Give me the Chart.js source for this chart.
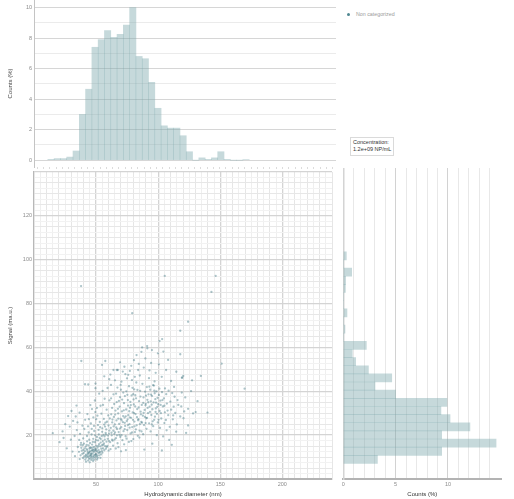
<!DOCTYPE html>
<html>
<head>
<meta charset="utf-8">
<title>Size vs signal</title>
<script src="https://cdn.jsdelivr.net/npm/chart.js@4.4.1/dist/chart.umd.min.js"></script>
<style>
  html, body { margin: 0; padding: 0; background: #fff; }
  #page { position: relative; width: 514px; height: 499px; overflow: hidden; font-family: "Liberation Sans", Arial, sans-serif; }
  .panel { position: absolute; }
  #topPanel { left: 0; top: 0; width: 336px; height: 170px; z-index: 2; }
  #mainPanel { left: 0; top: 168px; width: 336px; height: 331px; z-index: 1; }
  #sidePanel { left: 300px; top: 168px; width: 214px; height: 331px; z-index: 1; }
  #legend { position: absolute; left: 347px; top: 11px; font-size: 5.3px; line-height: 6px; color: #9a9a9a; white-space: nowrap; }
  #legend .dot { display: inline-block; width: 3px; height: 3px; border-radius: 50%; background: #4f8791; margin-right: 6px; vertical-align: middle; }
  #conc { position: absolute; left: 350px; top: 136.5px; border: 1px solid #dadada; padding: 1.5px 2px; font-size: 5.5px; line-height: 7.2px; color: #333; background: #fff; white-space: nowrap; }
</style>
</head>
<body>
<div id="page">
  <div class="panel" id="topPanel"><canvas id="sizeChart"></canvas></div>
  <div class="panel" id="mainPanel"><canvas id="scatterChart"></canvas></div>
  <div class="panel" id="sidePanel"><canvas id="signalChart"></canvas></div>
  <div id="legend"><span class="dot"></span>Non categorized</div>
  <div id="conc">Concentration:<br>1.2e+09 NP/mL</div>
</div>
<script>
// size histogram, 5 nm bins (bin centres, % of counts)
const sizeBins = [13.5, 18.5, 23.5, 28.5, 33.5, 38.5, 43.5, 48.5, 53.5, 58.5, 63.5, 68.5, 73.5, 78.5, 83.5, 88.5,
  93.5, 98.5, 103.5, 108.5, 113.5, 118.5, 123.5, 128.5, 133.5, 138.5, 143.5, 148.5, 153.5, 158.5, 163.5, 168.5];
const sizeCounts = [0.05, 0.1, 0.1, 0.2, 0.6, 3.0, 4.65, 7.4, 7.9, 8.5, 8.05, 8.25, 8.85, 10.0, 6.8, 6.65,
  5.1, 3.4, 2.25, 2.1, 2.1, 1.6, 0.55, 0, 0.15, 0.05, 0.15, 0.55, 0.05, 0, 0, 0.03];

// signal histogram (bin centres, % of counts)
const signalBins = [8.83, 12.50, 16.16, 19.83, 23.49, 27.16, 30.82, 34.49, 38.15, 41.82, 45.48, 49.15, 52.81,
  56.48, 60.14, 63.81, 67.47, 71.14, 74.80, 78.47, 82.13, 85.80, 89.46, 93.13, 96.79, 100.46];
const signalCounts = [3.26, 9.4, 14.6, 9.4, 12.1, 10.2, 9.33, 9.9, 5.0, 3.03, 4.63, 2.4, 1.18,
  0.86, 2.2, 0, 0.16, 0, 0.35, 0, 0, 0.2, 0.22, 0.8, 0, 0.29];

// particles: [hydrodynamic diameter (nm), signal (ma.u.)]
const particles = [
  [36.2,12.4],[37.5,10.8],[38.1,14.2],[38.9,11.5],[39.4,9.6],[39.8,13.3],[40.2,16.1],[40.6,10.2],[41.0,12.7],[41.3,8.9],
  [41.7,14.8],[42.0,11.1],[42.2,9.8],[42.5,13.6],[42.8,17.2],[43.1,10.5],[43.3,12.1],[43.6,8.4],[43.9,15.3],[44.1,11.8],
  [44.3,9.2],[44.6,13.9],[44.8,10.7],[45.0,12.6],[45.2,16.4],[45.5,9.5],[45.7,11.3],[45.9,14.1],[46.1,8.7],[46.3,12.9],
  [46.6,10.1],[46.8,15.7],[47.0,11.6],[47.2,9.3],[47.5,13.4],[47.7,18.3],[47.9,10.6],[48.1,12.2],[48.4,14.6],[48.6,8.9],
  [48.8,11.0],[49.0,16.8],[49.3,12.8],[49.5,9.9],[49.7,13.7],[50.0,11.4],[50.2,15.1],[50.5,10.3],[50.7,19.2],[50.9,12.5],
  [51.2,14.3],[51.4,9.7],[51.6,17.6],[51.9,11.9],[52.1,13.2],[52.4,15.9],[52.6,10.8],[52.9,18.7],[53.1,12.4],[53.4,14.9],
  [53.7,16.6],[54.0,11.2],[54.2,13.8],[54.5,19.6],[54.8,15.4],[55.1,12.0],[55.4,17.3],[55.7,14.0],[56.0,20.1],[56.3,16.2],
  [56.6,13.1],[57.0,18.0],[57.3,15.0],[57.7,21.0],[35.3,14.6],[36.8,9.1],[37.9,16.5],[38.5,12.9],[39.1,15.4],[40.0,11.9],
  [40.9,14.0],[41.5,10.6],[42.4,15.6],[43.0,13.0],[43.8,10.0],[44.5,17.9],[45.3,14.4],[46.0,10.9],[46.9,13.0],[47.4,16.9],
  [48.2,10.0],[48.9,13.5],[49.9,17.7],[50.4,13.0],[51.0,10.8],[51.8,15.1],[52.8,12.0],[53.8,18.2],[54.6,12.7],[55.9,15.6],
  [56.8,19.4],[57.9,13.8],[58.4,17.0],[59.1,15.1],[59.6,19.8],[36.4,17.8],[39.6,18.5],[42.7,19.6],[44.0,21.2],[46.4,20.3],
  [48.5,21.9],[49.2,19.9],[52.0,22.4],[55.0,23.1],[37.1,20.6],[40.5,22.8],[43.5,24.0],[45.8,25.3],[41.9,7.9],[44.9,7.6],
  [47.6,8.2],[50.8,8.9],[53.5,9.6],[44.7,12.3],[46.2,11.7],[47.1,14.3],[48.0,12.9],[45.6,10.4],[43.4,11.4],[49.6,11.1],
  [58.2,22.6],[58.8,26.1],[59.4,18.3],[60.0,24.4],[60.5,20.7],[61.0,27.6],[61.3,16.8],[61.8,23.3],[62.2,29.5],[62.6,19.9],
  [63.0,25.8],[63.4,17.5],[63.9,22.0],[64.3,28.3],[64.7,20.5],[65.1,24.9],[65.6,31.2],[66.0,18.6],[66.4,26.7],[66.9,22.8],
  [67.3,16.3],[67.8,29.9],[68.2,21.4],[68.6,25.1],[69.0,33.0],[69.5,19.2],[69.9,27.4],[70.3,23.6],[70.8,30.8],[71.2,17.7],
  [71.6,25.9],[72.1,21.8],[72.5,34.6],[72.9,28.0],[73.4,24.2],[73.8,19.5],[74.2,31.7],[74.7,26.4],[75.1,22.3],[75.6,36.0],
  [76.0,29.1],[76.4,16.9],[76.9,25.0],[77.3,32.5],[77.8,20.8],[78.2,27.9],[78.6,38.1],[79.1,23.7],[79.5,30.4],[80.0,18.2],
  [80.4,34.0],[80.9,26.2],[81.3,21.4],[81.8,29.6],[82.2,36.8],[82.7,24.5],[83.1,31.9],[83.6,19.7],[57.5,25.7],[59.8,29.0],
  [61.6,13.6],[63.7,15.2],[65.9,13.9],[68.0,14.5],[70.1,12.6],[72.6,15.8],[74.0,13.2],[62.9,32.4],[66.6,35.1],[69.3,37.3],
  [71.9,39.4],[64.0,38.6],[67.2,41.7],[60.8,35.9],[58.5,31.6],[56.2,27.4],[54.3,29.8],[53.0,26.0],[51.5,24.6],[50.1,27.3],
  [49.4,30.5],[47.8,28.1],[46.7,31.9],[53.6,33.4],[56.9,36.6],[55.3,40.2],[52.5,38.9],[49.0,35.8],[45.4,33.7],[43.0,29.6],
  [41.2,27.0],[39.0,24.3],[59.2,41.5],[60.3,17.4],[62.4,21.1],[64.9,18.0],[66.2,23.5],[68.8,20.1],[70.6,26.8],[73.0,22.7],
  [75.4,27.2],[77.0,23.4],[79.7,27.0],[81.0,24.0],[63.2,27.1],[65.4,29.4],[67.6,32.0],[58.0,20.2],[60.7,22.1],[57.2,23.9],
  [84.1,27.3],[84.6,35.5],[85.0,22.1],[85.5,40.2],[85.9,30.7],[86.4,26.0],[86.8,33.8],[87.3,43.4],[87.7,28.9],[88.2,37.2],
  [88.6,24.6],[89.1,31.5],[89.5,39.8],[90.0,34.3],[90.4,27.7],[90.9,41.9],[91.3,36.1],[91.8,30.0],[92.2,38.6],[92.7,25.4],
  [93.1,33.0],[93.6,40.7],[94.0,35.4],[94.5,29.2],[95.0,37.9],[95.4,31.8],[95.9,42.8],[96.3,34.9],[96.8,27.0],[97.2,39.1],
  [97.7,36.4],[98.1,32.2],[98.6,40.0],[99.0,29.7],[99.5,37.0],[100.0,34.1],[100.6,38.3],[101.2,31.0],[101.8,35.7],[102.5,27.6],
  [103.1,39.6],[103.8,33.1],[104.6,36.8],[105.4,30.4],[106.2,26.9],[107.0,34.4],[108.1,29.1],[109.3,23.8],[110.5,31.6],[111.8,27.2],
  [113.2,37.5],[114.5,21.6],[116.2,33.8],[117.8,28.5],[120.4,27.7],[124.1,32.0],[128.1,29.9],[130.2,30.5],[124.1,24.4],[139.7,30.3],
  [76.5,42.3],[78.9,45.1],[80.7,40.9],[82.4,44.0],[74.4,40.0],[77.6,35.2],[79.9,38.7],[81.5,33.1],[83.3,40.6],[73.2,37.8],
  [75.8,33.5],[84.9,18.9],[87.9,20.4],[90.6,22.9],[93.9,21.7],[96.0,24.1],[98.9,20.0],[101.5,23.3],[104.0,19.4],[106.8,22.2],
  [108.9,17.8],[111.0,15.6],[103.0,13.0],[95.3,16.1],[88.8,13.4],[86.1,29.5],[89.8,33.6],[92.0,35.0],[94.8,33.9],[97.9,30.6],
  [62.1,36.8],[64.6,34.2],[66.1,38.9],[68.4,35.6],[70.0,40.7],[71.0,36.2],[72.3,31.3],[73.9,28.6],[75.2,38.4],[76.7,30.9],
  [78.0,33.7],[79.3,41.6],[80.2,36.3],[81.6,38.2],[82.9,28.2],[84.3,32.6],[85.7,37.6],[87.0,25.7],[88.0,34.7],[89.3,28.3],
  [90.2,38.0],[91.5,32.4],[92.9,42.1],[94.2,38.5],[95.6,26.3],[96.9,40.3],[98.3,34.8],[99.7,25.8],[101.0,41.2],[102.2,30.0],
  [103.5,36.0],[105.0,33.4],[106.5,38.7],[107.6,31.2],[109.8,35.3],[111.3,39.2],[112.1,29.0],[115.6,36.0],[118.6,33.1],[121.0,30.8],
  [58.6,14.6],[60.1,12.9],[62.8,17.9],[64.1,24.0],[65.3,21.3],[66.8,19.9],[67.9,27.5],[69.2,23.0],[70.5,20.0],[71.8,28.7],
  [73.1,25.6],[74.5,18.4],[75.7,24.6],[77.1,28.1],[78.4,17.3],[79.0,21.2],[80.6,30.0],[82.0,22.6],[83.8,26.8],[85.3,25.0],
  [86.6,21.7],[88.3,30.2],[89.9,25.5],[91.0,27.9],[93.4,30.6],[94.9,24.9],[97.4,28.4],[99.3,32.9],[100.3,27.1],[102.0,33.8],
  [52.2,20.3],[53.3,23.6],[54.9,21.5],[56.5,24.8],[51.1,28.9],[48.3,24.2],[46.5,22.9],[44.2,27.3],[50.6,32.4],[55.6,33.8],
  [38.1,53.8],[41.1,43.2],[43.7,43.1],[49.5,43.5],[49.5,41.4],[54.8,52.0],[57.4,53.8],[64.0,49.7],[66.7,49.7],[69.3,53.2],
  [71.5,49.0],[74.9,45.9],[82.6,56.5],[87.1,60.0],[91.1,60.6],[91.3,59.6],[95.0,58.8],[99.8,57.3],[101.1,62.9],[103.2,63.8],
  [100.6,52.3],[106.4,49.7],[110.4,44.7],[119.1,46.2],[117.8,56.9],[119.4,46.2],[120.2,47.0],[134.4,47.0],[151.1,52.6],[169.6,41.2],
  [86.5,58.0],[83.9,49.7],[75.9,47.5],[73.6,47.8],[67.5,49.7],[60.6,45.5],[56.6,46.8],[62.0,42.9],[70.4,44.4],[78.3,51.6],
  [85.2,47.2],[88.4,50.8],[92.6,46.0],[94.3,52.9],[97.1,44.5],[102.9,46.6],[108.0,54.3],[112.8,42.0],[114.6,48.9],[89.7,55.0],
  [80.5,54.2],[96.6,42.6],[105.5,41.3],[61.5,47.6],[65.2,45.0],[72.8,51.2],[77.2,49.3],[84.4,52.5],[93.0,49.5],[98.0,48.4],
  [104.2,58.1],[81.2,46.6],[69.8,42.9],
  [37.9,88.0],[105.3,92.6],[146.3,92.6],[142.9,85.3],[79.1,75.6],[124.1,71.7],[117.8,67.6],
  [15.1,20.9],[23.0,21.7],[23.8,18.7],[29.7,17.9],[31.5,26.5],[33.6,28.5],[37.6,15.6],[26.4,14.0],[28.8,23.9],[31.0,12.5],
  [32.7,19.6],[34.5,22.3],[20.6,16.8],[27.5,28.7],[30.2,31.0],[33.0,10.4],[35.0,25.8],[36.7,30.3],[34.2,33.5],[25.2,25.0],
  [105.0,25.5],[112.5,33.0],[115.0,24.9],[121.8,37.2],[126.5,40.1],[122.5,21.0],[131.7,35.5],[108.4,40.3],[119.0,39.4],[127.3,45.0],
  [113.8,30.1]
];

Chart.defaults.font.family = '"Liberation Sans", Arial, sans-serif';
Chart.defaults.animation = false;
Chart.defaults.plugins.legend.display = false;
Chart.defaults.plugins.tooltip.enabled = false;

const BAR_FILL = 'rgba(122, 168, 172, 0.43)';
const DOT_FILL = 'rgba(70, 125, 135, 0.45)';
const TICK_COLOR = '#8c8c8c';
const TITLE_COLOR = '#444';
const tickFont = { size: 5.5 };
const titleFont = { size: 6 };

const isMult = (v, m) => Math.abs(v / m - Math.round(v / m)) < 1e-6;

// pin axis boxes so the three plot areas line up
const fixWidth = w => s => { s.width = w; s.paddingTop = 0; s.paddingBottom = 0; };
const fixHeight = h => s => { s.height = h; s.paddingLeft = 0; s.paddingRight = 0; };

// 1. Size distribution (top)
new Chart(document.getElementById('sizeChart'), {
  type: 'bar',
  data: {
    datasets: [{
      data: sizeBins.map((x, i) => ({ x: x, y: sizeCounts[i] })),
      backgroundColor: BAR_FILL,
      borderWidth: 0,
      barPercentage: 1,
      categoryPercentage: 1
    }]
  },
  options: {
    responsive: true,
    maintainAspectRatio: false,
    layout: { padding: 0 },
    scales: {
      x: {
        type: 'linear', min: 0, max: 240, offset: false,
        ticks: { display: false, stepSize: 5, maxTicksLimit: 1000 },
        grid: { drawOnChartArea: false, drawTicks: true, tickLength: 2, color: '#dcdcdc' },
        border: { display: false },
        afterFit: fixHeight(3)
      },
      y: {
        min: -0.45, max: 10.5,
        ticks: {
          stepSize: 1, padding: 2, color: TICK_COLOR, font: tickFont, maxTicksLimit: 1000,
          callback: v => Number.isInteger(v) ? (v % 2 === 0 ? v : '') : null
        },
        grid: { drawTicks: false, color: ctx => ctx.tick.value % 2 === 0 ? '#d6d6d6' : '#ebebeb' },
        border: { color: '#c4c4c4', width: 1 },
        title: { display: true, text: 'Counts (%)', color: TITLE_COLOR, font: titleFont, padding: { top: 7, bottom: 0 } },
        afterFit: fixWidth(34)
      }
    }
  }
});

// 2. Diameter vs signal scatter (main)
new Chart(document.getElementById('scatterChart'), {
  type: 'scatter',
  data: {
    datasets: [{
      label: 'Non categorized',
      data: particles.map(p => ({ x: p[0], y: p[1] })),
      pointRadius: 1.15,
      pointBackgroundColor: DOT_FILL,
      pointBorderWidth: 0
    }]
  },
  options: {
    responsive: true,
    maintainAspectRatio: false,
    layout: { padding: 0 },
    scales: {
      x: {
        type: 'linear', min: 0, max: 240,
        ticks: {
          stepSize: 5, padding: 2, color: TICK_COLOR, font: tickFont, maxTicksLimit: 1000, autoSkip: false, maxRotation: 0,
          callback: v => (isMult(v, 50) && v > 0 && v < 240) ? v : ''
        },
        grid: {
          drawTicks: false,
          color: ctx => isMult(ctx.tick.value, 50) ? '#d4d4d4' : (isMult(ctx.tick.value, 10) ? '#e6e6e6' : '#efefef'),
          lineWidth: ctx => isMult(ctx.tick.value, 50) ? 1.3 : 1
        },
        border: { color: '#b3b3b3', width: 2 },
        title: { display: true, text: 'Hydrodynamic diameter (nm)', color: '#333', font: titleFont, padding: { top: 0, bottom: 1 } },
        afterFit: fixHeight(20)
      },
      y: {
        min: 0, max: 140,
        ticks: {
          stepSize: 2.5, padding: 2, color: TICK_COLOR, font: tickFont, maxTicksLimit: 1000, autoSkip: false,
          callback: v => (isMult(v, 20) && v > 0 && v < 140) ? v : ''
        },
        grid: {
          drawTicks: false,
          color: ctx => isMult(ctx.tick.value, 20) ? '#d4d4d4' : (isMult(ctx.tick.value, 5) ? '#e7e7e7' : '#f2f2f2'),
          lineWidth: ctx => isMult(ctx.tick.value, 20) ? 1.3 : 1
        },
        border: { color: '#b8b8b8', width: 1.2 },
        title: { display: true, text: 'Signal (ma.u.)', color: TITLE_COLOR, font: titleFont, padding: { top: 7, bottom: 0 } },
        afterFit: fixWidth(34)
      }
    }
  }
});

// 3. Signal distribution (right, horizontal)
new Chart(document.getElementById('signalChart'), {
  type: 'bar',
  data: {
    datasets: [{
      data: signalBins.map((y, i) => ({ x: signalCounts[i], y: y })),
      backgroundColor: BAR_FILL,
      borderWidth: 0,
      barPercentage: 1,
      categoryPercentage: 1
    }]
  },
  options: {
    indexAxis: 'y',
    responsive: true,
    maintainAspectRatio: false,
    layout: { padding: { right: 12.7 } },
    scales: {
      x: {
        type: 'linear', min: 0, max: 15.1,
        ticks: {
          stepSize: 1, padding: 2, color: TICK_COLOR, font: tickFont, maxTicksLimit: 1000, autoSkip: false, maxRotation: 0,
          callback: v => Number.isInteger(v) ? (v % 5 === 0 ? v : '') : null
        },
        grid: { drawTicks: false, color: ctx => ctx.tick.value % 5 === 0 ? '#d2d2d2' : '#e8e8e8' },
        border: { color: '#b3b3b3', width: 2 },
        title: { display: true, text: 'Counts (%)', color: '#333', font: titleFont, padding: { top: 0, bottom: 1 } },
        afterFit: fixHeight(20)
      },
      y: {
        type: 'linear', min: 0, max: 140, offset: false,
        ticks: { display: false },
        grid: { display: false },
        border: { color: '#d4d4d4', width: 1.5 },
        afterFit: fixWidth(43.3)
      }
    }
  }
});
</script>
</body>
</html>
